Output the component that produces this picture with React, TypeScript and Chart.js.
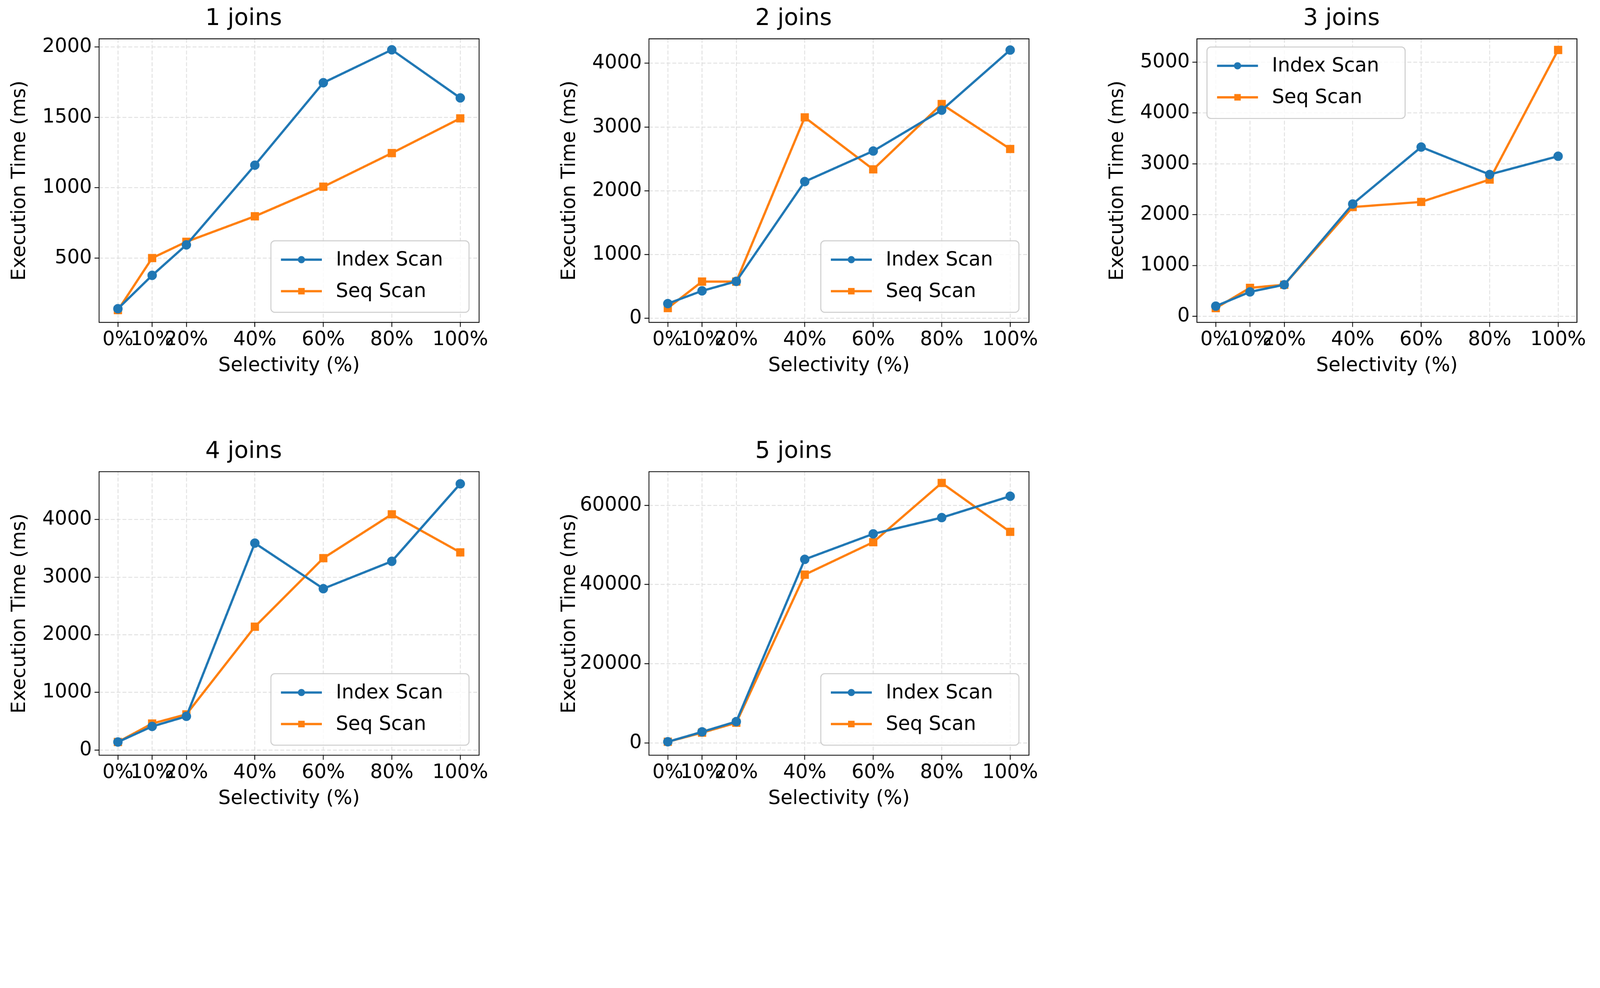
import { useEffect, useRef, useState } from "react";
import { Chart, registerables } from "chart.js";

Chart.register(...registerables);

const selectivity = [0, 10, 20, 40, 60, 80, 100];

const index1 = [140, 377, 594, 1160, 1746, 1980, 1638];
const seq1 = [130, 500, 616, 797, 1007, 1246, 1493];
const index2 = [230, 430, 580, 2144, 2624, 3264, 4208];
const seq2 = [160, 576, 576, 3152, 2336, 3360, 2656];
const index3 = [200, 480, 620, 2210, 3330, 2790, 3150];
const seq3 = [160, 560, 620, 2150, 2250, 2690, 5240];
const index4 = [140, 410, 585, 3590, 2800, 3275, 4620];
const seq4 = [140, 460, 620, 2140, 3330, 4090, 3430];
const index5 = [300, 2800, 5400, 46350, 52800, 56900, 62300];
const seq5 = [300, 2600, 5100, 42500, 50700, 65650, 53300];

const yTicks1 = [500, 1000, 1500, 2000];
const yTicks2 = [0, 1000, 2000, 3000, 4000];
const yTicks3 = [0, 1000, 2000, 3000, 4000, 5000];
const yTicks4 = [0, 1000, 2000, 3000, 4000];
const yTicks5 = [0, 20000, 40000, 60000];

const BLUE = "#1f77b4";
const ORANGE = "#ff7f0e";
const FONT = "'DejaVu Sans', sans-serif";

const panels = [
  { title: "1 joins", idx: index1, seq: seq1, ticks: yTicks1, yMin: 43, yMax: 2058, legend: "br", left: 305, top: 119 },
  { title: "2 joins", idx: index2, seq: seq2, ticks: yTicks2, yMin: -64, yMax: 4384, legend: "br", left: 1998, top: 119 },
  { title: "3 joins", idx: index3, seq: seq3, ticks: yTicks3, yMin: -120, yMax: 5460, legend: "tl", left: 3685, top: 119 },
  { title: "4 joins", idx: index4, seq: seq4, ticks: yTicks4, yMin: -90, yMax: 4830, legend: "br", left: 305, top: 1451 },
  { title: "5 joins", idx: index5, seq: seq5, ticks: yTicks5, yMin: -3100, yMax: 68500, legend: "br", left: 1998, top: 1451 },
];

const PW = 1170;
const PH = 873;
const YW = 280;
const XH = 170;
const TH = 110;
const RP = 100;

const framePlugin = {
  id: "frame",
  afterDraw(chart: any, _a: any, opts: any) {
    const { ctx, chartArea: a } = chart;
    ctx.save();
    ctx.strokeStyle = "#000";
    ctx.lineWidth = 2.5;
    ctx.strokeRect(a.left, a.top, a.right - a.left, a.bottom - a.top);
    // legend
    const w = 610, h = 220, m = 31;
    const x = opts.pos === "tl" ? a.left + m : a.right - m - w;
    const y = opts.pos === "tl" ? a.top + 25 : a.bottom - m - h;
    ctx.fillStyle = "rgba(255,255,255,0.8)";
    ctx.strokeStyle = "#cccccc";
    ctx.lineWidth = 3;
    ctx.beginPath();
    ctx.roundRect(x, y, w, h, 12);
    ctx.fill();
    ctx.stroke();
    const items = [
      { label: "Index Scan", color: BLUE, square: false },
      { label: "Seq Scan", color: ORANGE, square: true },
    ];
    items.forEach((it, i) => {
      const cy = y + 58 + i * 97;
      ctx.strokeStyle = it.color;
      ctx.lineWidth = 7;
      ctx.beginPath();
      ctx.moveTo(x + 31, cy);
      ctx.lineTo(x + 157, cy);
      ctx.stroke();
      ctx.fillStyle = it.color;
      if (it.square) ctx.fillRect(x + 94 - 10, cy - 10, 20, 20);
      else {
        ctx.beginPath();
        ctx.arc(x + 94, cy, 11, 0, Math.PI * 2);
        ctx.fill();
      }
      ctx.fillStyle = "#000";
      ctx.font = `60px ${FONT}`;
      ctx.textBaseline = "middle";
      ctx.fillText(it.label, x + 200, cy + 2);
    });
    ctx.restore();
  },
};

const gridOpts = {
  color: "#dedede",
  lineWidth: 2.5,
  tickColor: "#000",
  tickLength: 14,
  tickBorderDash: [],
  tickWidth: 2.5,
} as any;

function Panel({ p }: { p: (typeof panels)[number] }) {
  const ref = useRef<HTMLCanvasElement>(null);
  useEffect(() => {
    if (!ref.current) return;
    const chart = new Chart(ref.current, {
      type: "line",
      data: {
        datasets: [
          {
            label: "Index Scan",
            data: selectivity.map((s, i) => ({ x: s, y: p.idx[i] })),
            borderColor: BLUE,
            backgroundColor: BLUE,
            borderWidth: 7,
            pointRadius: 11,
            pointStyle: "circle",
          },
          {
            label: "Seq Scan",
            data: selectivity.map((s, i) => ({ x: s, y: p.seq[i] })),
            borderColor: ORANGE,
            backgroundColor: ORANGE,
            borderWidth: 7,
            pointRadius: 13,
            pointStyle: "rect",
          },
        ],
      },
      options: {
        animation: false,
        responsive: false,
        devicePixelRatio: 1,
        layout: { padding: { left: 0, right: RP, top: 0, bottom: 0 } },
        plugins: {
          legend: { display: false },
          tooltip: { enabled: false },
          title: {
            display: true,
            text: p.title,
            color: "#000",
            font: { family: FONT, size: 72, weight: "normal", lineHeight: 1.2 },
            padding: { top: 6, bottom: 18 },
          },
          frame: { pos: p.legend },
        } as any,
        scales: {
          x: {
            type: "linear",
            min: -5.5,
            max: 105.5,
            afterBuildTicks: (s: any) => {
              s.ticks = selectivity.map((v) => ({ value: v }));
            },
            afterFit: (s: any) => {
              s.height = XH;
            },
            ticks: {
              color: "#000",
              font: { family: FONT, size: 60 },
              maxRotation: 0,
              autoSkip: false,
              padding: 4,
              callback: (v: any) => v + "%",
            },
            grid: gridOpts,
            border: { display: false, dash: [12, 6] },
            title: {
              display: true,
              text: "Selectivity (%)",
              color: "#000",
              font: { family: FONT, size: 60 },
              padding: 0,
            },
          },
          y: {
            min: p.yMin,
            max: p.yMax,
            afterBuildTicks: (s: any) => {
              s.ticks = p.ticks.map((v) => ({ value: v }));
            },
            afterFit: (s: any) => {
              s.width = YW;
            },
            ticks: {
              color: "#000",
              font: { family: FONT, size: 60 },
              padding: 8,
              callback: (v: any) => String(v),
            },
            grid: gridOpts,
            border: { display: false, dash: [12, 6] },
            title: {
              display: true,
              text: "Execution Time (ms)",
              color: "#000",
              font: { family: FONT, size: 60 },
              padding: 0,
            },
          },
        },
      },
      plugins: [framePlugin],
    });
    return () => chart.destroy();
  }, [p]);
  return (
    <canvas
      ref={ref}
      width={YW + PW + RP}
      height={TH + PH + XH}
      style={{ position: "absolute", left: p.left - YW, top: p.top - TH }}
    />
  );
}

export default function App() {
  const [scale, setScale] = useState(1);
  useEffect(() => {
    document.body.style.margin = "0";
    document.body.style.overflow = "hidden";
    const fit = () =>
      setScale(Math.min(window.innerWidth / 4926, window.innerHeight / 2528, 1));
    fit();
    window.addEventListener("resize", fit);
    return () => window.removeEventListener("resize", fit);
  }, []);
  return (
    <div
      style={{
        position: "relative",
        width: 4926,
        height: 2528,
        background: "#fff",
        transform: `scale(${scale})`,
        transformOrigin: "0 0",
      }}
    >
      {panels.map((p) => (
        <Panel key={p.title} p={p} />
      ))}
    </div>
  );
}
